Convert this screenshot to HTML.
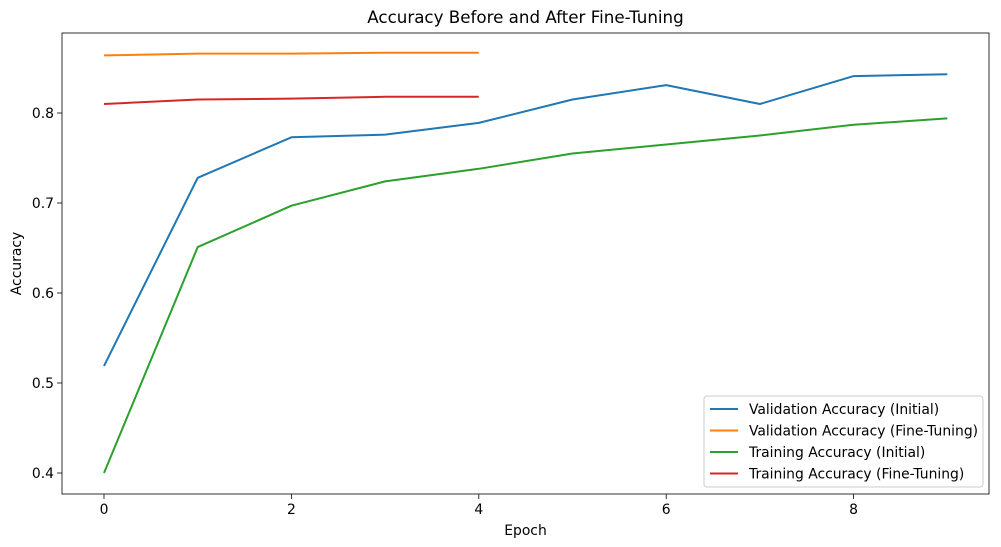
<!DOCTYPE html>
<html><head><meta charset="utf-8"><style>
body{margin:0;background:#fff;}
svg{display:block;font-family:"DejaVu Sans","Liberation Sans",sans-serif;}
</style></head><body>
<svg id="chart" width="1001" height="547"></svg>
<script>
const epochs=[0,1,2,3,4,5,6,7,8,9];
const valInitial=[0.519,0.728,0.773,0.776,0.789,0.815,0.831,0.810,0.841,0.843];
const valFine=[0.864,0.866,0.866,0.867,0.867];
const trainInitial=[0.400,0.651,0.697,0.724,0.738,0.755,0.765,0.775,0.787,0.794];
const trainFine=[0.810,0.815,0.816,0.818,0.818];
const xTicks=[0,2,4,6,8];
const yTicks=[0.4,0.5,0.6,0.7,0.8];
const seriesNames=["Validation Accuracy (Initial)","Validation Accuracy (Fine-Tuning)","Training Accuracy (Initial)","Training Accuracy (Fine-Tuning)"];

const NS="http://www.w3.org/2000/svg";
const svg=document.getElementById('chart');
const L=62,R=989,T=33,B=494;
const xs=v=>104+(v-0)*93.7;
const ys=v=>473-(v-0.4)*900;
function mk(tag,attrs,parent){const e=document.createElementNS(NS,tag);for(const k in attrs)e.setAttribute(k,attrs[k]);(parent||svg).appendChild(e);return e;}

const title=mk('text',{x:(L+R)/2,y:23,'text-anchor':'middle','font-size':16.7,fill:'#000'});
title.textContent='Accuracy Before and After Fine-Tuning';



xTicks.forEach(t=>{
  const g=mk('g',{});
  
  
  mk('line',{x1:xs(t),x2:xs(t),y1:B,y2:B+5,stroke:'#000','stroke-width':0.8},g);
  const tx=mk('text',{x:xs(t),y:B+20,'text-anchor':'middle','font-size':13.9},g);tx.textContent=t;
});
yTicks.forEach(t=>{
  const g=mk('g',{});
  
  
  mk('line',{x1:L-5,x2:L,y1:ys(t),y2:ys(t),stroke:'#000','stroke-width':0.8},g);
  const tx=mk('text',{x:L-8,y:ys(t)+5,'text-anchor':'end','font-size':13.9},g);tx.textContent=t.toFixed(1);
});
const xl=mk('text',{x:(L+R)/2,y:535,'text-anchor':'middle','font-size':13.9});xl.textContent='Epoch';


const yl=mk('text',{x:21,y:(T+B)/2,'text-anchor':'middle','font-size':13.9,transform:`rotate(-90 21 ${(T+B)/2})`});yl.textContent='Accuracy';



const colors=['#1f77b4','#ff7f0e','#2ca02c','#d62728'];
const data=[valInitial,valFine,trainInitial,trainFine];
data.forEach((s,i)=>{
  const p=mk('polyline',{points:s.map((v,j)=>xs(epochs[j])+','+ys(v)).join(' '),fill:'none',stroke:colors[i],'stroke-width':2,'stroke-linejoin':'round'});
  
  
});

const frame=mk('rect',{x:L,y:T,width:R-L,height:B-T,fill:'none',stroke:'#000','stroke-width':0.8});



const lg=mk('g',{});


mk('rect',{x:704,y:396,width:279,height:91,rx:3,fill:'#fff',stroke:'#ccc'},lg);
seriesNames.forEach((n,i)=>{
  const y=409+i*21.5;
  const g=mk('g',{},lg);
  
  
  mk('line',{x1:710,x2:738,y1:y,y2:y,stroke:colors[i],'stroke-width':2},g);
  const t=mk('text',{x:749,y:y+5,'font-size':13.9},g);t.textContent=n;
});
</script>
</body></html>
